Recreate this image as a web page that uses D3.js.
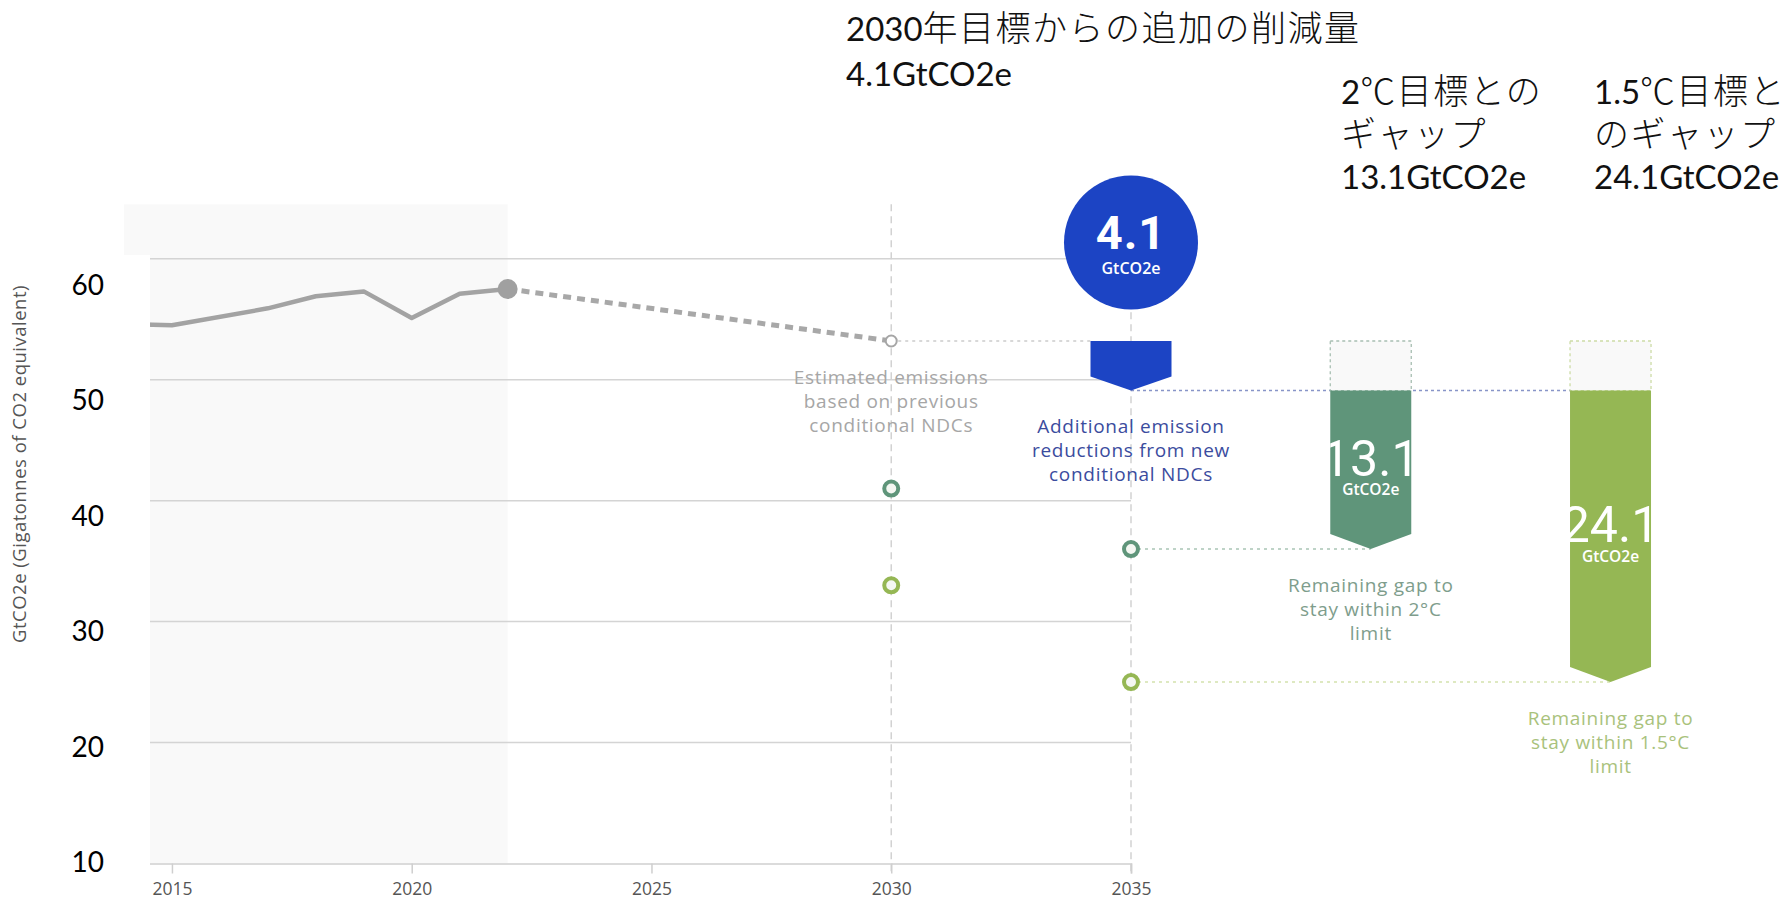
<!DOCTYPE html>
<html><head><meta charset="utf-8">
<script src="https://cdn.jsdelivr.net/npm/d3@7"></script>
<style>body{margin:0;background:#fff;} svg{display:block}</style>
</head><body><svg id="c" width="1785" height="902"></svg>
<script>
// ---- data ----
const histYears = [2014, 2015, 2017, 2018, 2019, 2020, 2021, 2022];
const histValues = [54.6, 54.5, 55.9, 56.9, 57.3, 55.1, 57.1, 57.5];
const projYears = [2022, 2030];
const projValues = [57.5, 53.2];
const pathwayYears = [2030, 2035];
const twoDegValues = [41.0, 36.0];
const onePointFiveValues = [33.0, 25.0];
const newNdcYear = 2035;
const newNdcValue = 49.1;
const gapYears = [2035, 2040, 2045];
const gapTops = [53.2, 49.1, 49.1];
const gapBottoms = [49.1, 36.0, 25.0];
const gapLabels = ["4.1", "13.1", "24.1"];
const xTicks = [2015, 2020, 2025, 2030, 2035];
const yTicks = [10, 20, 30, 40, 50, 60];
const yTitle = "GtCO2e (Gigatonnes of CO2 equivalent)";
const noteGray = ["Estimated emissions", "based on previous", "conditional NDCs"];
const noteBlue = ["Additional emission", "reductions from new", "conditional NDCs"];
const note2C = ["Remaining gap to", "stay within 2°C", "limit"];
const note15C = ["Remaining gap to", "stay within 1.5°C", "limit"];
const jpTitle1 = [["2030", "年目標からの追加の削減量"], ["4.1GtCO2e", ""]];
const jpTitle2 = [["2", "℃目標との"], ["", "ギャップ"], ["13.1GtCO2e", ""]];
const jpTitle3 = [["1.5", "℃目標と"], ["", "のギャップ"], ["24.1GtCO2e", ""]];

// ---- scales ----
const svg = d3.select("#c");
const x = d3.scaleLinear().domain([2014, 2035]).range([124, 1131]);
const y = d3.scaleLinear().domain([10, 64.5]).range([863.5, 204.3]);
const yLab = d3.scaleLinear().domain([10, 60]).range([862, 285]);

const C = {
  grid: "#d4d4d4", hist: "#a3a3a3", blue: "#1c44c4", dg: "#5f957a", lg: "#95b754",
  grayTxt: "#a6a6a6", blueTxt: "#3b4c9e", dgTxt: "#7e9d8c", lgTxt: "#a9c27c"
};

// shaded historic area
svg.append("rect").attr("x", x(2014)).attr("y", y(64.5))
  .attr("width", x(2022) - x(2014)).attr("height", y(10) - y(64.5)).attr("fill", "#f9f9f9");

// gridlines
svg.append("g").selectAll("line").data(yTicks.filter(d => d > 10)).join("line")
  .attr("x1", x(2014)).attr("x2", x(2035)).attr("y1", d => y(d)).attr("y2", d => y(d))
  .attr("stroke", C.grid).attr("stroke-width", 1.5);

// vertical dashed lines
svg.append("g").selectAll("line").data(pathwayYears).join("line")
  .attr("x1", d => x(d)).attr("x2", d => x(d)).attr("y1", y(64.5)).attr("y2", y(10) + 10)
  .attr("stroke", "#d2d2d2").attr("stroke-width", 1.5).attr("stroke-dasharray", "7,5");

// x axis
const xAxis = d3.axisBottom(x).tickValues(xTicks).tickFormat(d3.format("d")).tickSize(10).tickPadding(9);
const gx = svg.append("g").attr("transform", `translate(0,${y(10)})`).call(xAxis);
gx.select(".domain").attr("stroke", "#cfcfcf").attr("stroke-width", 1.5);
gx.selectAll(".tick line").attr("stroke", "#cfcfcf").attr("stroke-width", 1.5);
gx.selectAll(".tick text").attr("fill", "#555").style("font-family", "'Open Sans'").style("font-size", "17.5px");

// dotted connectors
const barW = 81;
svg.append("line").attr("x1", x(2030) + 7).attr("x2", x(2035) - barW / 2)
  .attr("y1", y(projValues[1])).attr("y2", y(projValues[1]))
  .attr("stroke", "#cbcbcb").attr("stroke-width", 1.5).attr("stroke-dasharray", "3,4");
svg.append("line").attr("x1", x(newNdcYear)).attr("x2", x(2045) + barW / 2)
  .attr("y1", y(newNdcValue)).attr("y2", y(newNdcValue))
  .attr("stroke", "#8895c8").attr("stroke-width", 1.5).attr("stroke-dasharray", "3,3");
svg.append("line").attr("x1", x(2035)).attr("x2", x(2040))
  .attr("y1", y(twoDegValues[1])).attr("y2", y(twoDegValues[1]))
  .attr("stroke", "#a9c5b5").attr("stroke-width", 1.5).attr("stroke-dasharray", "3,4");
svg.append("line").attr("x1", x(2035)).attr("x2", x(2045))
  .attr("y1", y(onePointFiveValues[1])).attr("y2", y(onePointFiveValues[1]))
  .attr("stroke", "#d3e2ad").attr("stroke-width", 1.5).attr("stroke-dasharray", "3,4");

// outline boxes above gap bars
[2040, 2045].forEach((yr, i) => {
  svg.append("rect").attr("x", x(yr) - barW / 2).attr("y", y(projValues[1]))
    .attr("width", barW).attr("height", y(newNdcValue) - y(projValues[1]))
    .attr("fill", "#f9f9f9").attr("stroke", i === 0 ? "#a8bfb2" : "#cddca6")
    .attr("stroke-width", 1.3).attr("stroke-dasharray", "3,3");
});

// historic line
const line = d3.line().x(d => x(d[0])).y(d => y(d[1]));
svg.append("path").datum(histYears.map((d, i) => [d, histValues[i]]))
  .attr("d", line).attr("fill", "none").attr("stroke", C.hist).attr("stroke-width", 4.5)
  .attr("stroke-linejoin", "round");
svg.append("path").datum(projYears.map((d, i) => [d, projValues[i]]))
  .attr("d", line).attr("fill", "none").attr("stroke", "#a8a8a8").attr("stroke-width", 5)
  .attr("stroke-dasharray", "8,6");
svg.append("circle").attr("cx", x(2022)).attr("cy", y(histValues[histValues.length - 1]))
  .attr("r", 10).attr("fill", "#a0a0a0");
svg.append("circle").attr("cx", x(projYears[1])).attr("cy", y(projValues[1]))
  .attr("r", 5.5).attr("fill", "#fff").attr("stroke", "#a6a6a6").attr("stroke-width", 2);

// pathway circles
function rings(vals, col) {
  svg.append("g").selectAll("circle").data(pathwayYears).join("circle")
    .attr("cx", d => x(d)).attr("cy", (d, i) => y(vals[i])).attr("r", 7)
    .attr("fill", "#f4f7f2").attr("stroke", col).attr("stroke-width", 4);
}
rings(twoDegValues, C.dg);
rings(onePointFiveValues, C.lg);

// gap arrows
const gapColors = [C.blue, C.dg, C.lg];
function arrowPath(cx, y0, y1, d) {
  return `M${cx - barW / 2},${y0}H${cx + barW / 2}V${y1 - d}L${cx},${y1}L${cx - barW / 2},${y1 - d}Z`;
}
const defs = svg.append("defs");
gapYears.forEach((yr, i) => {
  const p = arrowPath(x(yr), y(gapTops[i]), y(gapBottoms[i]), i === 0 ? 14 : 15);
  svg.append("path").attr("d", p).attr("fill", gapColors[i]);
  if (i > 0) {
    defs.append("clipPath").attr("id", "clip" + i).append("path").attr("d", p);
    const mid = (y(gapTops[i]) + y(gapBottoms[i])) / 2;
    const g = svg.append("g").attr("clip-path", `url(#clip${i})`);
    g.append("text").attr("x", x(yr)).attr("y", mid - 12).attr("dy", "0.36em")
      .attr("text-anchor", "middle").attr("fill", "#fff")
      .style("font-family", "Roboto").style("font-weight", 400).style("font-size", "50px")
      .text(gapLabels[i]);
    g.append("text").attr("x", x(yr)).attr("y", mid + 20).attr("dy", "0.36em")
      .attr("text-anchor", "middle").attr("fill", "#fff")
      .style("font-family", "'Open Sans'").style("font-weight", 600).style("font-size", "15.5px")
      .text("GtCO2e");
  }
});

// big circle
const cy0 = y(gapTops[0]) - 98.5;
svg.append("circle").attr("cx", x(2035)).attr("cy", cy0).attr("r", 67).attr("fill", C.blue);
svg.append("text").attr("x", x(2035)).attr("y", cy0 - 10).attr("dy", "0.36em")
  .attr("text-anchor", "middle").attr("fill", "#fff")
  .style("font-family", "Roboto").style("font-weight", 700).style("font-size", "47px")
  .style("letter-spacing", "1px").text(gapLabels[0]);
svg.append("text").attr("x", x(2035)).attr("y", cy0 + 26).attr("dy", "0.36em")
  .attr("text-anchor", "middle").attr("fill", "#fff")
  .style("font-family", "'Open Sans'").style("font-weight", 600).style("font-size", "16px").text("GtCO2e");

// notes
function note(lines, cx, top, col) {
  const t = svg.append("text").attr("text-anchor", "middle").attr("fill", col)
    .style("font-family", "'Open Sans'").style("font-size", "19px").style("letter-spacing", "0.7px");
  lines.forEach((l, i) => t.append("tspan").attr("x", cx).attr("y", top + i * 24).attr("dy", "0.36em").text(l));
}
note(noteGray, x(2030), y(projValues[1]) + 36, C.grayTxt);
note(noteBlue, x(2035), y(newNdcValue) + 36, C.blueTxt);
note(note2C, x(2040), y(twoDegValues[1]) + 36, C.dgTxt);
note(note15C, x(2045), y(onePointFiveValues[1]) + 36, C.lgTxt);

// white cover box on the left (pasted labels)
svg.append("rect").attr("x", 53).attr("y", 255).attr("width", 97).attr("height", 647).attr("fill", "#fff");

// y tick labels (pasted)
svg.append("g").selectAll("text").data(yTicks).join("text")
  .attr("x", 104).attr("y", d => yLab(d)).attr("dy", "0.36em").attr("text-anchor", "end")
  .attr("fill", "#000").style("font-family", "Lato").style("font-size", "28px").text(d => d);

// y title
svg.append("text").attr("transform", "translate(26,464) rotate(-90)").attr("text-anchor", "middle")
  .attr("fill", "#555").style("font-family", "'Open Sans'").style("font-size", "18.5px")
  .style("letter-spacing", "0.5px").text(yTitle);

// Japanese annotations
function jp(block, x0, baselines) {
  block.forEach((parts, i) => {
    const t = svg.append("text").attr("x", x0).attr("y", baselines[i]).attr("fill", "#111");
    if (parts[0]) t.append("tspan").style("font-family", "Lato").style("font-size", "33px").text(parts[0]);
    if (parts[1]) t.append("tspan").style("font-family", "'Noto Sans CJK JP'").style("font-weight", 300)
      .style("font-size", "35px").style("letter-spacing", "1.5px").text(parts[1]);
  });
}
jp(jpTitle1, 846, [41, 86]);
jp(jpTitle2, 1341, [104, 147, 189]);
jp(jpTitle3, 1594, [104, 147, 189]);
</script></body></html>
